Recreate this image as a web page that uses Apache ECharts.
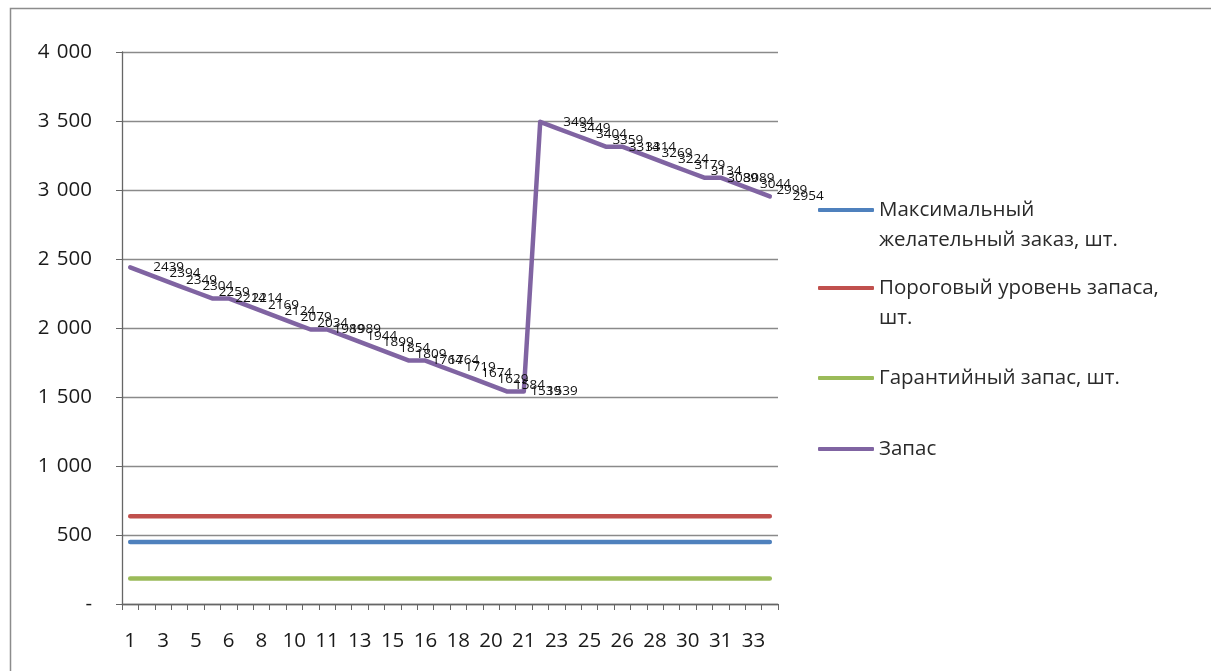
<!DOCTYPE html>
<html>
<head>
<meta charset="utf-8">
<script src="https://cdn.jsdelivr.net/npm/echarts@6/dist/echarts.min.js"></script>
<style>
html,body{margin:0;padding:0;background:#fff;}
#chart{width:1211px;height:671px;}
</style>
</head>
<body>
<div id="chart"></div>
<script>
var days = [1,2,3,4,5,6,6,7,8,9,10,11,11,12,13,14,15,16,16,17,18,19,20,21,21,22,23,24,25,26,26,27,28,29,30,31,31,32,33,34];
var stock = [2439,2394,2349,2304,2259,2214,2214,2169,2124,2079,2034,1989,1989,1944,1899,1854,1809,1764,1764,1719,1674,1629,1584,1539,1539,3494,3449,3404,3359,3314,3314,3269,3224,3179,3134,3089,3089,3044,2999,2954];
var maxOrder = [450,450,450,450,450,450,450,450,450,450,450,450,450,450,450,450,450,450,450,450,450,450,450,450,450,450,450,450,450,450,450,450,450,450,450,450,450,450,450,450];
var threshold = [635,635,635,635,635,635,635,635,635,635,635,635,635,635,635,635,635,635,635,635,635,635,635,635,635,635,635,635,635,635,635,635,635,635,635,635,635,635,635,635];
var safety = [185,185,185,185,185,185,185,185,185,185,185,185,185,185,185,185,185,185,185,185,185,185,185,185,185,185,185,185,185,185,185,185,185,185,185,185,185,185,185,185];
var seriesNames = ['Максимальный желательный заказ, шт.','Пороговый уровень запаса, шт.','Гарантийный запас, шт.','Запас'];
var legendLabels = ['\u200B\nМаксимальный\nжелательный заказ, шт.','\u200B\nПороговый уровень запаса,\nшт.','Гарантийный запас, шт.','Запас'];
var colors = ['#4F81BD','#C0504D','#9BBB59','#8064A2'];

var FONT = 'Open Sans';
function fmtY(v){ if(v===0) return '-'; var s=String(v); return s.length>3 ? s.slice(0,s.length-3)+' \u200A'+s.slice(-3) : s; }

function mkLegend(i, top){
  return {
    data:[seriesNames[i]], orient:'vertical', left:818, top:top, padding:0,
    icon:'roundRect', itemWidth:56, itemHeight:4,
    formatter:function(){ return legendLabels[i]; },
    textStyle:{fontFamily:FONT, fontSize:20.5, color:'#2a2a2a', lineHeight:30},
    selectedMode:false
  };
}

var chart = echarts.init(document.getElementById('chart'));
function lineS(i, data){
  return {name:seriesNames[i], type:'line', data:data, symbol:'none', color:colors[i],
    lineStyle:{width:4.5, color:colors[i], cap:'round'}, silent:true, z:2};
}
var stockSeries = {
  name:seriesNames[3], type:'line', data:stock, color:colors[3],
  symbol:'circle', symbolSize:2, showSymbol:true,
  itemStyle:{color:colors[3]},
  lineStyle:{width:4.5, color:colors[3], join:'round', cap:'round'},
  label:{show:true, position:'right', distance:22, fontFamily:FONT, fontSize:13.5, color:'#111'},
  labelLayout:{hideOverlap:false},
  silent:true, z:3
};
chart.setOption({
  animation:false,
  backgroundColor:'#fff',
  graphic:[{type:'rect', shape:{x:10.5,y:8.5,width:1400,height:900}, style:{fill:null, stroke:'#8c8c8c', lineWidth:1.5}, silent:true}],
  legend:[mkLegend(0,165), mkLegend(1,243), mkLegend(2,363), mkLegend(3,434)],
  grid:{left:122, right:433, top:52, bottom:67},
  xAxis:{type:'category', data:days, boundaryGap:true,
    axisLine:{lineStyle:{color:'#666', width:1.3}},
    axisTick:{show:true, interval:0, length:6, lineStyle:{color:'#666'}},
    axisLabel:{interval:1, margin:27, fontFamily:FONT, fontSize:20.5, color:'#1a1a1a'},
    splitLine:{show:false}},
  yAxis:{type:'value', min:0, max:4000, interval:500,
    axisLine:{show:true, lineStyle:{color:'#666', width:1.3}},
    axisTick:{show:true, inside:false, length:6, lineStyle:{color:'#666'}},
    axisLabel:{margin:30, fontFamily:FONT, fontSize:20.5, color:'#1a1a1a', formatter:fmtY},
    splitLine:{show:true, lineStyle:{color:'#8a8a8a', width:1.3}}},
  series:[lineS(0,maxOrder), lineS(1,threshold), lineS(2,safety), stockSeries]
});
</script>
</body>
</html>
